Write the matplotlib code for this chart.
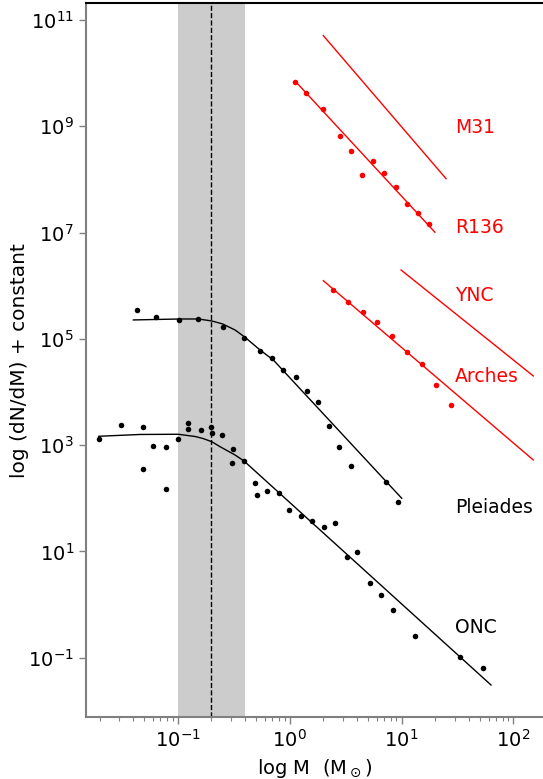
#!/usr/bin/env python3
"""
imf.py - mass functions of young clusters, shifted by a constant
"""
import matplotlib
matplotlib.use('Agg')
import matplotlib.pyplot as plt
from matplotlib.ticker import NullLocator, FixedLocator
import numpy as np

# values read as log10(M) and log10(dN/dM)
onc_logm = [-1.706, -1.509, -1.307, -1.218, -1.102, -1.307, -1.102, -0.997,
            -0.911, -0.911, -0.794, -0.705, -0.693, -0.604, -0.503, -0.515,
            -0.408, -0.309, -0.294, -0.205, -0.092, -0.003, 0.099, 0.203,
            0.307, 0.408, 0.510, 0.602, 0.716, 0.819, 0.921, 1.123, 1.523, 1.728]
onc_logn = [3.121, 3.384, 3.341, 2.983, 2.959, 2.556, 2.180, 3.121,
            3.411, 3.309, 3.290, 3.341, 3.222, 3.196, 2.933, 2.658,
            2.701, 2.282, 2.067, 2.137, 2.093, 1.785, 1.666, 1.572,
            1.453, 1.529, 0.889, 0.989, 0.400, 0.185, -0.097, -0.586, -0.987, -1.200]
onc_fit_logm = [-1.706, -1.337, -0.997, -0.845, -0.774, -0.696, -0.622, -0.488, -0.408, 1.800]
onc_fit_logn = [3.166, 3.200, 3.204, 3.162, 3.124, 3.064, 2.970, 2.814, 2.701, -1.514]

ple_logm = [-1.361, -1.191, -0.986, -0.819, -0.598, -0.405, -0.265, -0.155, -0.059,
            0.055, 0.153, 0.251, 0.349, 0.444, 0.551, 0.861, 0.968]
ple_logn = [5.537, 5.405, 5.355, 5.379, 5.223, 5.022, 4.766, 4.634, 4.408,
            4.282, 4.024, 3.817, 3.360, 2.970, 2.613, 2.306, 1.924]
ple_fit_logm = [-1.397, -0.986, -0.816, -0.696, -0.598, -0.488, -0.399, -0.265, -0.146, 1.002]
ple_fit_logn = [5.355, 5.373, 5.373, 5.336, 5.279, 5.166, 5.029, 4.790, 4.602, 1.999]

r136_logm = [0.048, 0.149, 0.301, 0.450, 0.551, 0.647, 0.748, 0.846, 0.948, 1.046, 1.145, 1.246]
r136_logn = [9.833, 9.632, 9.320, 8.817, 8.529, 8.089, 8.341, 8.126, 7.852, 7.537, 7.362, 7.161]
r136_fit_logm = [0.048, 1.299]
r136_fit_logn = [9.852, 7.005]

m31_fit_logm = [0.301, 1.398]
m31_fit_logn = [10.705, 8.014]

arches_logm = [0.388, 0.525, 0.656, 0.784, 0.918, 1.052, 1.181, 1.311, 1.445]
arches_logn = [5.919, 5.688, 5.511, 5.311, 5.054, 4.747, 4.521, 4.137, 3.760]
arches_fit_logm = [0.301, 2.178]
arches_fit_logn = [6.094, 2.720]

ync_fit_logm = [0.996, 2.178]
ync_fit_logn = [6.295, 4.301]

labels = ['M31', 'R136', 'YNC', 'Arches', 'Pleiades', 'ONC']
label_colors = ['red', 'red', 'red', 'red', 'black', 'black']
label_logn = [8.968, 7.086, 5.806, 4.282, 1.817, -0.423]
label_m = 30.0

shade = (0.1, 0.4)
mchar = 0.2


def p(a):
    return 10 ** np.array(a)


def plotimf():
    fig = plt.figure(figsize=(5.43, 7.79), dpi=100)
    ax = fig.add_axes([0.158, 0.0792, 0.842, 0.9166])

    ax.axvspan(shade[0], shade[1], color='0.8', lw=0, zorder=0)
    ax.axvline(mchar, color='black', ls='--', lw=1, zorder=1)

    # black clusters
    ax.plot(p(onc_logm), p(onc_logn), 'o', color='black', ms=4, mew=0)
    ax.plot(p(onc_fit_logm), p(onc_fit_logn), '-', color='black', lw=1)
    ax.plot(p(ple_logm), p(ple_logn), 'o', color='black', ms=4, mew=0)
    ax.plot(p(ple_fit_logm), p(ple_fit_logn), '-', color='black', lw=1)

    # red clusters
    ax.plot(p(r136_logm), p(r136_logn), 'o', color='red', ms=4, mew=0)
    ax.plot(p(r136_fit_logm), p(r136_fit_logn), '-', color='red', lw=1)
    ax.plot(p(m31_fit_logm), p(m31_fit_logn), '-', color='red', lw=1)
    ax.plot(p(arches_logm), p(arches_logn), 'o', color='red', ms=4, mew=0)
    ax.plot(p(arches_fit_logm), p(arches_fit_logn), '-', color='red', lw=1)
    ax.plot(p(ync_fit_logm), p(ync_fit_logn), '-', color='red', lw=1)

    for name, c, yl in zip(labels, label_colors, label_logn):
        ax.text(label_m, 10 ** yl, name, color=c, fontsize=13.5,
                ha='left', va='center')

    ax.set_xscale('log')
    ax.set_yscale('log')
    ax.set_xlim(0.01506, 184)
    ax.set_ylim(7.55e-3, 2.06e11)
    ax.yaxis.set_major_locator(FixedLocator([10.0 ** k for k in range(-1, 12, 2)]))
    ax.yaxis.set_minor_locator(NullLocator())

    for s in ['left', 'bottom']:
        ax.spines[s].set_color('0.5')
        ax.spines[s].set_linewidth(1.5)
    ax.spines['top'].set_color('black')
    ax.spines['top'].set_linewidth(1.5)
    ax.spines['right'].set_visible(False)
    ax.tick_params(which='both', colors='0.5', labelcolor='black', labelsize=14)
    ax.tick_params(which='major', length=5, width=1)
    ax.tick_params(which='minor', length=3, width=0.8)
    ax.tick_params(top=False, right=False)

    ax.set_xlabel(r'log M  (M$_\odot$)', fontsize=14)
    ax.set_ylabel('log (dN/dM) + constant', fontsize=14.5)
    ax.yaxis.set_label_coords(-0.125, 0.5)

    plt.savefig('out.png', dpi=100)


def main():
    plotimf()


if __name__ == '__main__':
    main()
